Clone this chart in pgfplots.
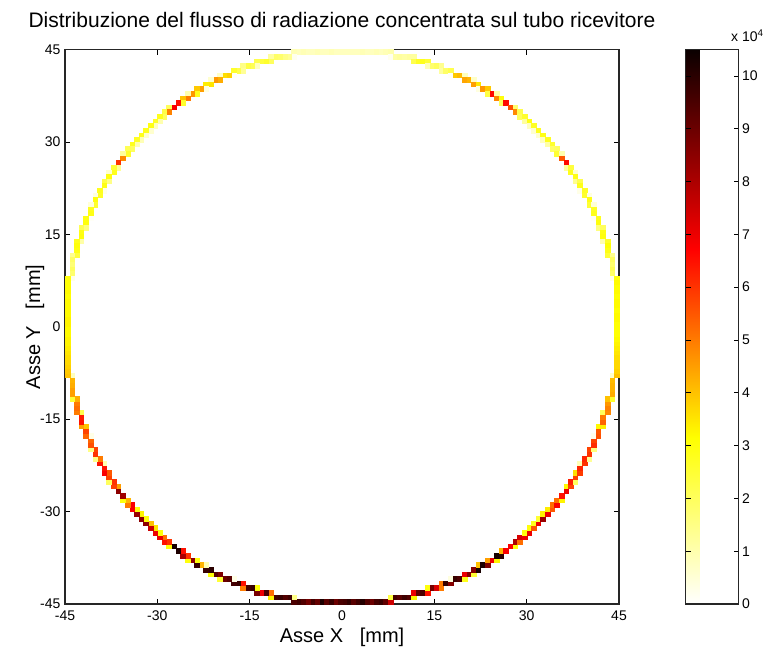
\documentclass[border=0pt]{standalone}
\usepackage{pgfplots}
\pgfplotsset{compat=1.18}
\usepackage{pgfplotstable}
\usepackage{fontspec}
\setmainfont{Liberation Sans}

% cell indices (i,j) on a 0.75 mm grid, v = flux in units of 10^4
\pgfplotstableread{
i j v
0 59 0.8
1 59 0.8
2 59 0.8
3 59 0.8
4 59 0.9
5 59 0.8
6 59 0.8
7 59 0.9
8 59 0.8
9 59 0.9
10 59 1.0
10 58 0.2
11 58 1.1
12 58 1.2
13 58 1.1
14 58 1.2
15 58 1.2
15 57 2.2
16 57 2.7
17 57 2.8
18 57 2.5
18 56 0.9
19 56 1.8
20 56 2.0
21 56 1.4
21 55 1.2
22 55 1.9
23 55 2.2
23 54 0.1
24 54 3.9
25 54 4.1
26 54 0.8
26 53 4.4
27 53 4.2
28 53 0.7
28 52 4.5
29 52 3.5
29 51 0.4
30 51 4.6
31 51 3.9
31 50 2.3
32 50 6.6
33 50 1.1
33 49 4.8
34 49 3.0
34 48 2.0
35 48 6.6
36 47 5.6
37 47 1.8
37 46 4.8
38 46 2.2
38 45 2.0
39 45 2.6
39 44 1.2
40 44 2.9
40 43 0.8
41 43 2.7
41 42 0.6
42 42 2.8
42 41 0.6
43 41 2.9
43 40 0.8
44 40 2.8
44 39 1.1
45 39 2.6
45 38 1.9
46 38 2.0
46 37 2.5
47 37 1.0
47 36 5.5
48 35 6.6
48 34 1.2
49 34 2.4
49 33 2.8
50 33 0.6
50 32 2.9
50 31 1.4
51 31 2.2
51 30 2.8
51 29 0.3
52 29 2.7
52 28 2.6
53 28 0.4
53 27 2.9
53 26 2.5
54 26 0.5
54 25 2.7
54 24 2.8
54 23 0.1
55 23 2.8
55 22 3.0
55 21 1.6
56 21 2.0
56 20 2.9
56 19 3.0
56 18 1.0
57 18 2.7
57 17 3.1
57 16 2.9
57 15 2.5
58 15 1.4
58 14 2.0
58 13 1.8
58 12 2.1
58 11 1.9
58 10 0.3
59 10 3.0
59 9 3.2
59 8 3.1
59 7 3.2
59 6 3.1
59 5 3.2
59 4 3.2
59 3 3.1
59 2 3.2
59 1 3.2
59 0 3.1
-1 59 0.8
-2 59 0.8
-3 59 0.9
-4 59 0.8
-5 59 0.8
-6 59 0.9
-7 59 0.8
-8 59 0.8
-9 59 0.9
-10 59 0.8
-11 59 0.9
-11 58 0.2
-12 58 1.3
-13 58 1.5
-14 58 1.8
-15 58 1.9
-16 58 1.2
-16 57 2.0
-17 57 2.6
-18 57 2.4
-19 57 2.2
-19 56 0.8
-20 56 2.1
-21 56 2.3
-22 56 1.5
-22 55 1.3
-23 55 2.2
-24 55 2.6
-24 54 0.1
-25 54 3.8
-26 54 3.6
-27 54 0.7
-27 53 4.3
-28 53 4.6
-29 53 0.6
-29 52 3.5
-30 52 3.4
-30 51 0.4
-31 51 4.5
-32 51 3.9
-32 50 2.8
-33 50 4.6
-34 50 1.0
-34 49 5.0
-35 49 4.0
-35 48 2.6
-36 48 6.5
-37 47 6.8
-38 47 2.0
-38 46 4.9
-39 46 2.3
-39 45 2.0
-40 45 2.8
-40 44 1.0
-41 44 2.7
-41 43 0.8
-42 43 2.9
-42 42 0.6
-43 42 2.8
-43 41 0.6
-44 41 2.8
-44 40 0.9
-45 40 2.7
-45 39 1.0
-46 39 2.8
-46 38 2.0
-47 38 2.1
-47 37 2.6
-48 37 1.2
-48 36 4.8
-49 35 6.0
-49 34 1.3
-50 34 2.5
-50 33 2.8
-51 33 0.6
-51 32 3.0
-51 31 1.5
-52 31 2.3
-52 30 2.9
-52 29 0.3
-53 29 2.8
-53 28 2.7
-54 28 0.4
-54 27 3.0
-54 26 2.6
-55 26 0.5
-55 25 2.8
-55 24 2.9
-55 23 0.1
-56 23 2.9
-56 22 3.0
-56 21 1.6
-57 21 2.1
-57 20 2.9
-57 19 3.0
-57 18 1.1
-58 18 2.8
-58 17 3.0
-58 16 2.9
-58 15 2.4
-59 15 1.4
-59 14 1.9
-59 13 1.7
-59 12 2.0
-59 11 1.8
-59 10 0.3
-60 10 3.0
-60 9 3.1
-60 8 3.1
-60 7 3.2
-60 6 3.1
-60 5 3.2
-60 4 3.2
-60 3 3.2
-60 2 3.2
-60 1 3.3
-60 0 3.3
0 -60 9.6
1 -60 9.9
2 -60 9.3
3 -60 9.7
4 -60 10.1
5 -60 9.4
6 -60 9.0
7 -60 9.6
8 -60 9.8
9 -60 9.2
10 -60 7.5
10 -59 2.3
11 -59 9.6
12 -59 9.3
13 -59 9.7
14 -59 9.4
15 -59 3.2
15 -58 7.0
16 -58 9.2
17 -58 9.5
18 -58 6.5
18 -57 3.0
19 -57 8.8
20 -57 7.3
21 -57 5.0
21 -56 5.0
22 -56 9.8
23 -56 8.6
23 -55 0.4
24 -55 9.8
25 -55 9.5
26 -55 2.8
26 -54 7.0
27 -54 8.5
28 -54 2.5
28 -53 8.6
29 -53 10.3
29 -52 4.0
30 -52 10.2
31 -52 8.7
31 -51 4.5
32 -51 7.0
33 -51 3.3
33 -50 10.3
34 -50 10.0
34 -49 4.2
35 -49 6.8
36 -48 6.8
37 -48 3.0
37 -47 8.0
38 -47 5.2
38 -46 7.3
39 -46 7.0
39 -45 3.0
40 -45 7.0
40 -44 3.0
41 -44 5.5
41 -43 2.8
42 -43 7.0
42 -42 2.5
43 -42 8.3
43 -41 3.3
44 -41 7.0
44 -40 3.4
45 -40 5.5
45 -39 5.2
46 -39 6.8
46 -38 5.2
47 -38 3.3
47 -37 6.5
48 -36 7.0
48 -35 3.2
49 -35 5.8
49 -34 6.3
50 -34 2.0
50 -33 5.8
50 -32 3.6
51 -32 5.9
51 -31 6.2
51 -30 0.9
52 -30 6.0
52 -29 6.2
53 -29 1.3
53 -28 6.0
53 -27 5.8
54 -27 1.6
54 -26 6.1
54 -25 5.8
54 -24 0.2
55 -24 5.6
55 -23 5.5
55 -22 3.2
56 -22 3.4
56 -21 5.3
56 -20 5.0
56 -19 2.0
57 -19 4.8
57 -18 4.9
57 -17 4.6
57 -16 4.0
58 -16 2.6
58 -15 4.3
58 -14 4.2
58 -13 4.2
58 -12 4.1
58 -11 0.6
59 -11 4.0
59 -10 3.8
59 -9 3.7
59 -8 3.7
59 -7 3.6
59 -6 3.5
59 -5 3.4
59 -4 3.3
59 -3 3.2
59 -2 3.1
59 -1 3.1
-1 -60 9.5
-2 -60 9.0
-3 -60 9.8
-4 -60 9.3
-5 -60 10.2
-6 -60 9.1
-7 -60 9.6
-8 -60 8.9
-9 -60 9.4
-10 -60 9.7
-11 -60 9.5
-11 -59 1.5
-12 -59 9.7
-13 -59 9.4
-14 -59 9.8
-15 -59 9.6
-16 -59 3.3
-16 -58 5.2
-17 -58 9.5
-18 -58 7.0
-19 -58 8.8
-19 -57 3.0
-20 -57 9.8
-21 -57 9.6
-22 -57 5.0
-22 -56 6.5
-23 -56 9.8
-24 -56 9.6
-24 -55 0.3
-25 -55 9.3
-26 -55 9.0
-27 -55 2.5
-27 -54 8.7
-28 -54 9.3
-29 -54 3.0
-29 -53 10.0
-30 -53 9.8
-30 -52 1.0
-31 -52 4.2
-32 -52 9.8
-32 -51 3.0
-33 -51 8.5
-34 -51 3.0
-34 -50 6.0
-35 -50 8.0
-35 -49 6.5
-36 -49 10.2
-37 -48 10.3
-38 -48 3.0
-38 -47 6.0
-39 -47 6.5
-39 -46 5.2
-40 -46 7.0
-40 -45 3.0
-41 -45 7.0
-41 -44 3.5
-42 -44 7.5
-42 -43 4.0
-43 -43 8.5
-43 -42 3.0
-44 -42 8.5
-44 -41 3.3
-45 -41 8.3
-45 -40 3.0
-46 -40 6.8
-46 -39 6.8
-47 -39 5.0
-47 -38 4.2
-48 -38 3.0
-48 -37 8.2
-49 -36 8.5
-49 -35 4.5
-50 -35 5.8
-50 -34 6.0
-51 -34 2.0
-51 -33 5.8
-51 -32 5.5
-52 -32 6.8
-52 -31 6.5
-52 -30 1.0
-53 -30 6.5
-53 -29 5.0
-54 -29 1.5
-54 -28 6.0
-54 -27 5.8
-55 -27 1.5
-55 -26 5.6
-55 -25 5.3
-55 -24 0.3
-56 -24 5.3
-56 -23 5.8
-56 -22 4.0
-57 -22 4.5
-57 -21 6.5
-57 -20 6.3
-57 -19 2.2
-58 -19 5.0
-58 -18 5.2
-58 -17 5.0
-58 -16 4.3
-59 -16 2.5
-59 -15 4.5
-59 -14 4.5
-59 -13 4.3
-59 -12 4.2
-59 -11 0.8
-60 -11 4.0
-60 -10 3.9
-60 -9 3.8
-60 -8 3.7
-60 -7 3.6
-60 -6 3.5
-60 -5 3.4
-60 -4 3.3
-60 -3 3.3
-60 -2 3.2
-60 -1 3.2
}\ringdata

\begin{document}
\begin{tikzpicture}[x=1pt,y=1pt]
\path[use as bounding box] (0,0) rectangle (766,649);
\begin{axis}[
  at={(65pt,45pt)}, anchor=south west,
  scale only axis, width=554pt, height=554.5pt,
  xmin=-45, xmax=45, ymin=-45, ymax=45,
  xtick={-45,-30,-15,0,15,30,45},
  xticklabels={-45,-30,-15,0,15,30,45},
  ytick={-45,-30,-15,0,15,30,45},
  yticklabels={-45,-30,-15,0,15,30,45},
  tick align=inside, major tick length=5pt,
  tick style={black, line width=0.8pt},
  axis line style={black!85, line width=1.4pt},
  ticklabel style={font=\fontsize{14}{16}\selectfont},
  xticklabel style={yshift=-3pt},
  yticklabel style={xshift=-1pt},
  axis on top,
  colormap={hotr}{rgb255(0pt)=(255,255,255); rgb255(30pt)=(255,255,0); rgb255(64pt)=(255,0,0); rgb255(100pt)=(10,0,0)},
  point meta min=0, point meta max=10.5,
  colorbar,
  colorbar style={
    at={(parent axis.north east)}, anchor=north west, xshift=58pt,
    scale only axis, width=53pt, height=554.5pt,
    ytick={0,1,2,3,4,5,6,7,8,9,10},
    yticklabels={0,1,2,3,4,5,6,7,8,9,10},
    ytick pos=both, yticklabel pos=right,
    tick align=inside, major tick length=5pt,
    tick style={black, line width=0.8pt},
    axis line style={black!85, line width=1.4pt},
    ticklabel style={font=\fontsize{14}{16}\selectfont},
  },
]
\addplot[scatter, only marks, mark=square*, mark size=2.31pt,
  mark options={line width=0.2pt},
  scatter/use mapped color={draw=mapped color, fill=mapped color},
  point meta=explicit]
  table[x expr=(\thisrow{i}+0.5)*0.75, y expr=(\thisrow{j}+0.5)*0.75, meta=v] {\ringdata};
\end{axis}
\node[font=\fontsize{21}{24}\selectfont] at (342,629) {Distribuzione del flusso di radiazione concentrata sul tubo ricevitore};
\node[font=\fontsize{20}{24}\selectfont] at (342,12) {Asse X~~~[mm]};
\node[font=\fontsize{20}{24}\selectfont, rotate=90] at (35,322) {Asse Y~~~[mm]};
\node[font=\fontsize{14}{16}\selectfont, anchor=base west, inner sep=0pt] at (731,607) {x 10\textsuperscript{4}};
\end{tikzpicture}
\end{document}
